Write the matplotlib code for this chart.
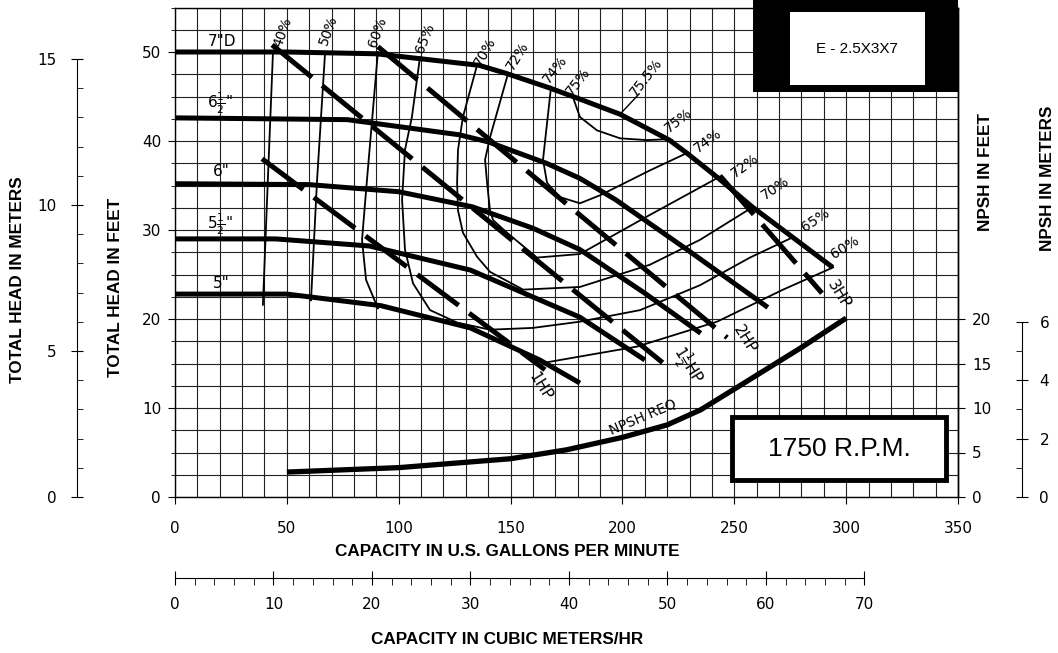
import matplotlib
matplotlib.use('Agg')
import matplotlib.pyplot as plt
from matplotlib import font_manager as fm
from matplotlib.patches import Rectangle
import numpy as np

# ---- impeller head curves (US gpm, ft) ----
q_7 = [0, 50, 90, 136, 148, 167, 180, 199, 221, 229, 243, 258, 276, 294]
h_7 = [50.0, 50.0, 49.8, 48.5, 47.6, 46.0, 44.8, 43.0, 40.1, 38.6, 35.8, 32.6, 29.2, 25.8]
q_65 = [0, 77, 127, 140, 166, 181, 197, 230, 265]
h_65 = [42.6, 42.4, 40.7, 39.9, 37.5, 35.8, 33.4, 27.6, 21.3]
q_6 = [0, 60, 100, 133, 160, 181, 210, 235]
h_6 = [35.2, 35.1, 34.3, 32.6, 30.2, 27.8, 22.9, 18.4]
q_55 = [0, 45, 87, 132, 181, 210]
h_55 = [29.0, 29.0, 28.2, 25.5, 20.2, 15.4]
q_5 = [0, 50, 92, 132, 163, 181]
h_5 = [22.8, 22.8, 21.5, 19.0, 15.4, 12.8]

# ---- NPSH required (gpm, ft) ----
q_npsh = [50, 100, 150, 175, 200, 220, 235, 255, 280, 300]
h_npsh = [2.8, 3.3, 4.3, 5.3, 6.7, 8.1, 9.8, 12.9, 16.8, 20.1]

# ---- efficiency contours (gpm, ft) ----
q_e40 = [43.8, 41.5, 39.3]
h_e40 = [50.0, 35.6, 21.6]
q_e50 = [67.1, 63.5, 60.8]
h_e50 = [50.0, 35.6, 22.1]
q_e60 = [90.7, 85.8, 83.6, 85.4, 90.7]
h_e60 = [50.0, 35.6, 28.9, 24.4, 21.2]
q_e60r = [165.4, 206.5, 242.3, 271.8, 294.2]
h_e60r = [15.1, 16.9, 19.7, 23.3, 25.8]
q_e65 = [109.5, 105.9, 102.8, 101.5, 102.8, 106.4, 114.0, 126.1, 140.8, 160.0, 181.0, 207.9, 234.7, 257.0, 276.3]
h_e65 = [49.4, 42.7, 39.0, 33.4, 27.8, 24.0, 21.0, 19.6, 18.8, 19.0, 19.7, 21.0, 23.8, 26.9, 29.2]
q_e70 = [135.0, 128.7, 126.5, 126.1, 126.5, 128.7, 135.0, 140.8, 155.6, 181.0, 212.3, 234.7, 258.4]
h_e70 = [48.5, 42.7, 39.0, 35.3, 32.2, 29.7, 27.0, 25.3, 23.3, 23.6, 26.1, 28.9, 32.6]
q_e72 = [148.9, 140.8, 138.6, 139.5, 140.8, 142.2, 148.4, 161.8, 181.0, 212.3, 243.6]
h_e72 = [47.6, 40.4, 37.9, 35.3, 32.2, 31.1, 29.7, 26.9, 27.3, 31.7, 36.0]
q_e74 = [168.1, 164.5, 166.3, 172.1, 181.0, 190.0, 212.3, 229.3]
h_e74 = [46.1, 37.9, 35.3, 33.7, 33.0, 33.9, 36.7, 38.7]
q_e75 = [177.9, 181.0, 188.6, 198.9, 211.0, 219.9, 222.2]
h_e75 = [44.9, 42.7, 41.2, 40.3, 40.1, 40.2, 40.1]

# ---- horsepower lines (gpm, ft) ----
q_hp1 = [38.9, 165.4]
h_hp1 = [38.0, 14.3]
q_hp15 = [43.4, 220.4]
h_hp15 = [50.8, 14.6]
q_hp2 = [90.7, 246.8]
h_hp2 = [50.6, 17.9]
q_hp3 = [243.6, 289.2]
h_hp3 = [36.1, 22.9]

FT_PER_M = 3.2808
GPM_PER_M3H = 4.4029

plt.rcParams['lines.scale_dashes'] = False
plt.rcParams['font.family'] = ['DejaVu Sans']

names = {f.name for f in fm.fontManager.ttflist}
if 'Liberation Sans Narrow' in names:
    tfont = dict(family='Liberation Sans Narrow', weight='bold', size=14.5)
else:
    tfont = dict(family='Liberation Sans', weight='bold', size=12.3)

W, H = 1058, 653
fig = plt.figure(figsize=(W / 100, H / 100), dpi=100)


def fx(px):
    return px / W


def fy(py):
    return 1 - py / H


X0, X1 = 175, 958
Y0, Y1 = 497, 7.5
ax = fig.add_axes([fx(X0), fy(Y0), (X1 - X0) / W, (Y0 - Y1) / H])
ax.set_xlim(0, 350)
ax.set_ylim(0, 55)

# grid
ax.set_xticks(np.arange(0, 351, 50))
ax.set_xticks(np.arange(0, 351, 10), minor=True)
ax.set_yticks(np.arange(0, 51, 10))
ax.set_yticks(np.arange(0, 55.1, 2.5), minor=True)
ax.grid(which='both', color='#222222', lw=0.8, zorder=1)
ax.set_axisbelow(True)
for s in ax.spines.values():
    s.set_linewidth(1.0)
ax.tick_params(axis='x', which='major', length=5, pad=12, labelsize=11)
ax.tick_params(axis='x', which='minor', length=0)
ax.tick_params(axis='y', which='major', length=5, pad=5, labelsize=11)
ax.tick_params(axis='y', which='minor', length=3)

# impeller curves
for q, h in [(q_7, h_7), (q_65, h_65), (q_6, h_6), (q_55, h_55), (q_5, h_5)]:
    ax.plot(q, h, color='black', lw=3.6, solid_capstyle='butt', zorder=4)

# efficiency curves
for q, h in [(q_e40, h_e40), (q_e50, h_e50), (q_e60, h_e60), (q_e60r, h_e60r),
             (q_e65, h_e65), (q_e70, h_e70), (q_e72, h_e72), (q_e74, h_e74),
             (q_e75, h_e75)]:
    ax.plot(q, h, color='black', lw=1.3, zorder=3)
ax.plot([207.5, 198.9], [45.3, 43.0], color='black', lw=1.0, zorder=3)

# horsepower lines
for q, h in [(q_hp1, h_hp1), (q_hp15, h_hp15), (q_hp2, h_hp2), (q_hp3, h_hp3)]:
    ax.plot(q, h, color='black', lw=3.6, dashes=(37, 9.5), dash_capstyle='butt', zorder=4)

# NPSH required
ax.plot(q_npsh, h_npsh, color='black', lw=3.8, solid_capstyle='butt', zorder=4)
ax.text(209, 9.0, 'NPSH REQ', rotation=23, ha='center', va='center', fontsize=10, zorder=5)

# impeller labels
for x, y, s in [(21, 51.2, '7"D'), (20, 44.2, '6$\\frac{1}{2}$"'), (20.6, 36.6, '6"'),
                (20, 30.6, '5$\\frac{1}{2}$"'), (20.6, 24.0, '5"')]:
    ax.text(x, y, s, ha='center', va='center', fontsize=11, zorder=5)

# efficiency labels
for x, y, s, r in [(48.3, 52.2, '40%', 70), (68.4, 52.5, '50%', 70), (90.7, 52.2, '60%', 70),
                   (111.8, 51.6, '65%', 68), (138.6, 50.0, '70%', 60), (153.3, 49.6, '72%', 58),
                   (169.9, 48.0, '74%', 52), (180.2, 46.7, '75%', 52), (210.5, 47.2, '75.5%', 52),
                   (224.9, 42.3, '75%', 38), (238.3, 40.0, '74%', 36), (254.8, 37.2, '72%', 36),
                   (268.2, 34.7, '70%', 34), (286.1, 31.1, '65%', 34), (299.5, 28.0, '60%', 32)]:
    ax.text(x, y, s, rotation=r, ha='center', va='center', fontsize=10, zorder=5)

# horsepower labels
for x, y, s in [(163.2, 12.4, '1HP'), (229.3, 14.8, '1$\\frac{1}{2}$HP'),
                (254.5, 17.7, '2HP'), (296.8, 22.8, '3HP')]:
    ax.text(x, y, s, rotation=-58, ha='center', va='center', fontsize=11, zorder=5)

# right NPSH feet axis
axr = ax.secondary_yaxis('right')
axr.set_yticks([0, 5, 10, 15, 20])
axr.tick_params(axis='y', length=5, pad=5, labelsize=11)
axr.spines['right'].set_linewidth(1.0)

# left meters axis
axm = fig.add_axes([fx(77), fy(Y0), 1e-4, (Y0 - Y1) / H])
axm.set_ylim(0, 55 / FT_PER_M)
axm.patch.set_visible(False)
for s in ['top', 'right', 'bottom']:
    axm.spines[s].set_visible(False)
axm.spines['left'].set_bounds(0, 15)
axm.set_xticks([])
axm.set_yticks([0, 5, 10, 15])
axm.set_yticks(range(16), minor=True)
axm.tick_params(axis='y', which='major', direction='inout', length=9, pad=10, labelsize=11)
axm.tick_params(axis='y', which='minor', direction='in', length=4)

# right NPSH meters axis
axn = fig.add_axes([fx(1022), fy(Y0), 1e-4, (Y0 - Y1) / H])
axn.set_ylim(0, 55 / FT_PER_M)
axn.patch.set_visible(False)
for s in ['top', 'left', 'bottom']:
    axn.spines[s].set_visible(False)
axn.spines['right'].set_bounds(0, 6)
axn.set_xticks([])
axn.yaxis.tick_right()
axn.set_yticks([0, 2, 4, 6])
axn.set_yticks([1, 3, 5], minor=True)
axn.tick_params(axis='y', which='major', direction='inout', length=9, pad=8, labelsize=11)
axn.tick_params(axis='y', which='minor', direction='in', length=4)

# bottom m3/hr axis
axc = fig.add_axes([fx(X0), fy(578), (X1 - X0) / W, 1e-4])
axc.set_xlim(0, 350 / GPM_PER_M3H)
axc.patch.set_visible(False)
for s in ['top', 'left', 'right']:
    axc.spines[s].set_visible(False)
axc.spines['bottom'].set_bounds(0, 70)
axc.set_yticks([])
axc.set_xticks(range(0, 71, 10))
axc.set_xticks(range(0, 71, 2), minor=True)
axc.tick_params(axis='x', which='major', direction='inout', length=10, pad=9, labelsize=11)
axc.tick_params(axis='x', which='minor', direction='out', length=5)

# boxes
fig.patches.append(Rectangle((fx(753), fy(92)), (958 - 753) / W, 92 / H,
                             transform=fig.transFigure, facecolor='black', edgecolor='none', zorder=6))
fig.patches.append(Rectangle((fx(790), fy(85)), (925 - 790) / W, (85 - 12) / H,
                             transform=fig.transFigure, facecolor='white', edgecolor='none', zorder=7))
fig.text(fx(857), fy(49), 'E - 2.5X3X7', ha='center', va='center', fontsize=11,
         family='Liberation Sans', zorder=8)
fig.patches.append(Rectangle((fx(732), fy(480)), (946 - 732) / W, (480 - 417) / H,
                             transform=fig.transFigure, facecolor='white', edgecolor='black',
                             lw=3.5, zorder=6))
fig.text(fx(839), fy(449), '1750 R.P.M.', ha='center', va='center', fontsize=19,
         family='Liberation Sans', zorder=8)

# axis titles
fig.text(fx(18), fy(280), 'TOTAL HEAD IN METERS', rotation=90, ha='center', va='center', **tfont)
fig.text(fx(116), fy(287), 'TOTAL HEAD IN FEET', rotation=90, ha='center', va='center', **tfont)
fig.text(fx(986), fy(172), 'NPSH IN FEET', rotation=90, ha='center', va='center', **tfont)
fig.text(fx(1047), fy(178), 'NPSH IN METERS', rotation=90, ha='center', va='center', **tfont)
fig.text(fx(507), fy(552), 'CAPACITY IN U.S. GALLONS PER MINUTE', ha='center', va='center', **tfont)
fig.text(fx(507), fy(640), 'CAPACITY IN CUBIC METERS/HR', ha='center', va='center', **tfont)

fig.savefig('out.png', dpi=100)
